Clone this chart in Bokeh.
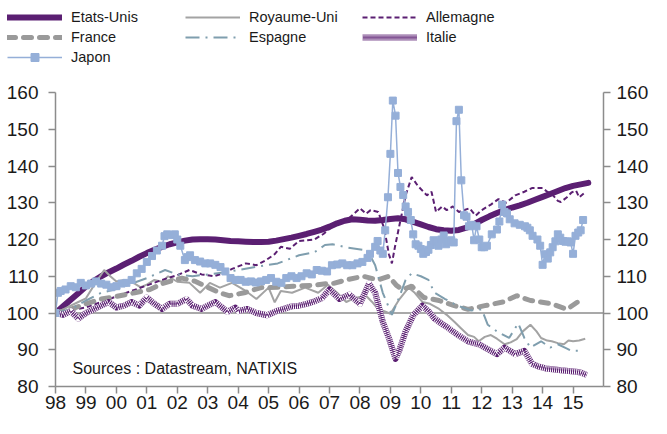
from bokeh.plotting import figure
from bokeh.layouts import column
from bokeh.models import (Range1d, LinearAxis, FixedTicker, Legend, LegendItem,
                          Label, Span)
from bokeh.embed import file_html
from bokeh.resources import INLINE

# ---------------- data (decimal years, index 1998 = 100) ----------------
year_ticks = list(range(1998, 2016))
year_labels = ["98", "99", "00", "01", "02", "03", "04", "05", "06", "07", "08",
               "09", "10", "11", "12", "13", "14", "15"]
y_ticks = [80, 90, 100, 110, 120, 130, 140, 150, 160]

us_x = [1998 + i / 4 for i in range(71)]
us_y = [100, 101.8, 103.6, 105.4,
        107.2, 108.7, 110.0, 111.1,
        112.1, 113.2, 114.2, 115.3,
        116.3, 117.2, 118.0, 118.7,
        119.2, 119.7, 120.0, 120.1,
        120.1, 120.0, 119.8, 119.6,
        119.5, 119.4, 119.3, 119.3,
        119.4, 119.7, 120.1, 120.5,
        121.0, 121.5, 122.1, 122.7,
        123.5, 124.4, 125.1, 125.5,
        125.4, 125.2, 125.1, 125.3,
        125.6, 125.8, 125.5, 124.8,
        124.1, 123.4, 122.8, 122.5,
        122.4, 122.6, 123.2, 124.2,
        125.3, 126.3, 127.2, 128.0,
        128.7, 129.3, 130.0, 130.8,
        131.6, 132.4, 133.2, 134.0,
        134.6, 135.0, 135.4]

uk_x = [1998.0, 1998.25, 1998.5, 1998.75, 1999.0, 1999.3, 1999.6, 1999.8,
        2000.0, 2000.25, 2000.6, 2000.8, 2001.0, 2001.25, 2001.5, 2001.7,
        2002.0, 2002.4, 2002.75, 2003.07, 2003.4, 2003.8, 2004.25, 2004.6,
        2005.0, 2005.2, 2005.4, 2005.77, 2006.2, 2006.63, 2006.95, 2007.25,
        2007.55, 2007.8, 2008.2, 2008.4, 2008.6, 2008.8, 2009.0, 2009.3,
        2009.6, 2009.8, 2010.05, 2010.3, 2010.6, 2010.85, 2011.1, 2011.3,
        2011.55, 2011.75, 2011.9, 2012.1, 2012.3, 2012.5, 2012.75, 2012.95,
        2013.15, 2013.35, 2013.6, 2013.8, 2013.95, 2014.15, 2014.3, 2014.5,
        2014.7, 2014.85, 2015.0, 2015.2, 2015.4]
uk_y = [100, 101, 102, 103, 104, 108, 111.7, 110,
        108.6, 109, 108, 107, 107.7, 109, 108.5, 110,
        108.5, 108.2, 105.5, 108.2, 106.9, 108.2, 106, 103.8,
        106.9, 102.9, 106, 105.5, 106.9, 105.5, 107.7, 105.5,
        103, 104, 104.7, 103, 101, 100.5, 99.8, 103.8,
        106.9, 105.5, 103, 102.5, 101.1, 99.5, 97.6, 96,
        94, 93.5, 92.3, 93.5, 94, 93, 91.5, 92,
        92.9, 95, 96.8, 95, 93.2, 92.5, 92.3, 91.8,
        91.5, 92.5, 92.3, 92.5, 93]

de_x = [1998.0, 1998.5, 1999.0, 1999.5, 2000.0, 2000.5, 2001.0, 2001.5,
        2002.0, 2002.4, 2002.8, 2003.2, 2003.5, 2003.8, 2004.25, 2004.6,
        2004.9, 2005.2, 2005.4, 2005.7, 2006.0, 2006.5, 2006.8, 2007.05,
        2007.3, 2007.6, 2008.0, 2008.2, 2008.35, 2008.6, 2008.8, 2008.95,
        2009.05, 2009.15, 2009.3, 2009.5, 2009.7, 2009.9, 2010.2, 2010.35,
        2010.5, 2010.7, 2010.85, 2011.05, 2011.25, 2011.6, 2011.8, 2012.0,
        2012.3, 2012.55, 2012.8, 2013.1, 2013.4, 2013.65, 2014.0, 2014.15,
        2014.3, 2014.5, 2014.6, 2014.8, 2014.95, 2015.1, 2015.2, 2015.35]
de_y = [100, 100.8, 101.5, 103, 104.5, 106, 107.5, 109,
        110.3, 111.7, 110.5, 110, 110.8, 112, 113.5, 113,
        114.3, 116, 118, 117.5, 119.6, 120, 121.5, 123.2,
        124.5, 125.5, 128.5, 127, 128, 127.5, 123, 116,
        113.5, 118, 124, 132, 137, 134.6, 132, 133,
        127.5, 129, 128, 129, 127.5, 128.5, 126.5, 128,
        129.5, 131, 130, 132, 133, 134, 134, 133,
        132.4, 130.5, 130.2, 131.5, 132.8, 133.3, 131.5, 132.5]

fr_x = [1998.0, 1998.5, 1999.0, 1999.5, 2000.0, 2000.6, 2001.1, 2001.5,
        2002.15, 2002.6, 2003.0, 2003.4, 2003.7, 2004.2, 2004.75, 2005.3,
        2005.8, 2006.4, 2006.9, 2007.1, 2007.55, 2008.1, 2008.6, 2008.95,
        2009.2, 2009.4, 2009.7, 2010.1, 2010.6, 2011.1, 2011.55, 2012.1,
        2012.7, 2013.15, 2013.6, 2014.3, 2014.8, 2015.15, 2015.3]
fr_y = [100, 101, 102.5, 103.8, 104.5, 105.5, 106.4, 108,
        109.5, 108.6, 107, 105.5, 104.7, 105.5, 106.9, 107,
        107.3, 107.5, 108, 108, 109, 110, 109, 110,
        107.5, 106.4, 107.3, 104.2, 103.4, 102, 101, 102,
        103, 104.7, 103.4, 102.5, 101, 103, 102.7]

es_x = [1998.0, 1998.5, 1999.0, 1999.5, 2000.0, 2000.5, 2001.0, 2001.6,
        2002.0, 2002.5, 2003.0, 2003.5, 2004.0, 2004.6, 2005.3, 2006.0,
        2006.5, 2006.85, 2007.1, 2007.6, 2008.25, 2008.5, 2008.75, 2009.05,
        2009.3, 2009.5, 2009.7, 2010.0, 2010.25, 2010.45, 2010.8, 2011.2,
        2011.65, 2012.0, 2012.2, 2012.5, 2012.9, 2013.2, 2013.4, 2013.6,
        2013.95, 2014.25, 2014.5, 2014.75, 2014.95, 2015.2]
es_y = [100, 101, 103.4, 105.5, 106.5, 108, 109.5, 111.7,
        110.5, 110, 110.5, 111, 111.7, 112.6, 113.5, 115.7,
        116.5, 118.5, 118.7, 117.8, 117, 113, 105.5, 99.5,
        104.5, 109, 110.8, 110, 109, 105.5, 103.8, 102,
        100.7, 101, 96.8, 95, 93.2, 97.2, 93.2, 90.6,
        92.3, 90.6, 91.5, 90.5, 89.7, 89.7]

it_x = [1998.0, 1998.25, 1998.5, 1998.75, 1999.0, 1999.25, 1999.5, 1999.75,
        2000.0, 2000.25, 2000.5, 2000.75, 2001.0, 2001.25, 2001.5, 2001.75,
        2002.0, 2002.3, 2002.5, 2002.8, 2003.0, 2003.25, 2003.65, 2003.9,
        2004.0, 2004.3, 2004.6, 2004.95, 2005.25, 2005.5, 2005.75, 2006.0,
        2006.25, 2006.45, 2006.75, 2007.0, 2007.33, 2007.65, 2008.0, 2008.3,
        2008.5, 2008.75, 2008.95, 2009.17, 2009.3, 2009.5, 2009.75, 2010.05,
        2010.25, 2010.45, 2010.7, 2010.9, 2011.2, 2011.55, 2011.75, 2011.9,
        2012.3, 2012.5, 2012.75, 2013.1, 2013.4, 2013.65, 2013.85, 2014.1,
        2014.4, 2014.6, 2014.85, 2015.1, 2015.25, 2015.45]
it_y = [100, 99.5, 100.5, 98.5, 100, 101, 102, 103,
        101.5, 102, 103, 102, 104.2, 102.5, 101.1, 102.5,
        102.5, 103.8, 102, 101.1, 102, 103, 100.3, 101.5,
        100.5, 101.1, 100, 99.4, 100.5, 101.1, 101.8, 102,
        102.5, 103, 104, 106.4, 103.8, 105, 102.5, 108,
        105.5, 97.6, 93.2, 87.5, 90, 95, 99.4, 102,
        100.5, 98.5, 97, 95.9, 94.1, 92.3, 91.8, 91.5,
        89.7, 88.8, 90.6, 88.8, 89.7, 86.2, 85.5, 84.9,
        84.6, 84.4, 84.2, 84.0, 83.8, 83.1]

jp_x = [1998.0, 1998.08, 1998.17, 1998.33, 1998.5, 1998.67, 1998.83, 1999.0,
        1999.17, 1999.33, 1999.5, 1999.67, 1999.83, 2000.0, 2000.17, 2000.33,
        2000.5, 2000.67, 2000.83, 2001.0, 2001.17, 2001.33, 2001.5, 2001.58,
        2001.67, 2001.83, 2001.92, 2002.0, 2002.1, 2002.25, 2002.33, 2002.42,
        2002.58, 2002.75, 2002.92, 2003.08, 2003.25, 2003.42, 2003.58, 2003.75,
        2003.92, 2004.08, 2004.25, 2004.42, 2004.58, 2004.75, 2004.92, 2005.08,
        2005.25, 2005.42, 2005.58, 2005.75, 2005.92, 2006.08, 2006.25, 2006.42,
        2006.58, 2006.75, 2006.92, 2007.08, 2007.25, 2007.42, 2007.58, 2007.75,
        2007.92, 2008.08, 2008.25, 2008.33, 2008.5, 2008.58, 2008.67, 2008.75,
        2008.83, 2008.92, 2009.0, 2009.08, 2009.17, 2009.25, 2009.33, 2009.42,
        2009.5, 2009.58, 2009.67, 2009.75, 2009.83, 2009.92, 2010.0, 2010.08,
        2010.17, 2010.25, 2010.33, 2010.42, 2010.5, 2010.58, 2010.67, 2010.75,
        2010.83, 2010.92, 2011.0, 2011.08, 2011.17, 2011.25, 2011.33, 2011.42,
        2011.5, 2011.58, 2011.67, 2011.75, 2011.83, 2011.92, 2012.0, 2012.08,
        2012.17, 2012.33, 2012.5, 2012.58, 2012.67, 2012.75, 2012.83, 2012.92,
        2013.08, 2013.25, 2013.42, 2013.5, 2013.58, 2013.67, 2013.83, 2013.92,
        2014.0, 2014.08, 2014.17, 2014.25, 2014.33, 2014.42, 2014.5, 2014.58,
        2014.67, 2014.75, 2014.83, 2014.92, 2015.0, 2015.08, 2015.17, 2015.25,
        2015.33]
jp_y = [100, 105.5, 106, 106.4, 107.3, 107, 108.2, 107.5,
        108, 108.6, 108, 107.7, 107, 107.3, 108, 108.2,
        109, 110.8, 112, 113.9, 115.5, 117, 118.3, 120.9,
        121.4, 121.2, 121.4, 120, 118.3, 114.4, 115.2, 115.7,
        114.4, 114, 113.5, 113.5, 113.1, 112.5, 111.3, 109.5,
        109, 109, 108.5, 108.6, 108.3, 108.6, 109, 109.5,
        108.5, 108.2, 109.5, 110, 109.5, 110, 110.8, 110.5,
        111.7, 111.5, 111.3, 113, 113.2, 113.5, 113, 113,
        113.5, 113.9, 115, 116.1, 118, 119.6, 117, 116.1,
        122.5, 131.5, 143.3, 157.8, 153.7, 138.1, 134.3, 132.1,
        129, 127.5, 125.3, 121.4, 118.7, 118.3, 117.4, 116.1,
        116.6, 117.2, 118.5, 119.8, 119.4, 118.3, 120, 121.1,
        118.7, 119.5, 119.8, 119.2, 152.2, 155.3, 136.1, 126.6,
        126.2, 123.6, 124, 119.8, 123.6, 120, 117.9, 117.9,
        118.3, 121.4, 122.7, 124.9, 129.5, 127.5, 127.1, 125.5,
        124.4, 124, 123.6, 123.2, 122.5, 121, 120, 118.3,
        113.1, 116, 114.8, 116.5, 117.9, 119.5, 121.4, 120.5,
        119.6, 119.4, 119.5, 119.2, 116.1, 121, 121.9, 122.5,
        125.3]

series_names = ["Etats-Unis", "Royaume-Uni", "Allemagne", "France", "Espagne",
                "Italie", "Japon"]

# ---------------- styles ----------------
FONT = "Liberation Sans"
PURPLE = "#5b1f72"
AXIS_GREY = "#8c8c8c"
STYLES = {
    "Etats-Unis": [dict(line_color=PURPLE, line_width=6, line_cap="round",
                        line_join="round")],
    "Royaume-Uni": [dict(line_color="#a3a3a3", line_width=2)],
    "Allemagne": [dict(line_color=PURPLE, line_width=2, line_dash="5 3")],
    "France": [dict(line_color="#9a9a9a", line_width=5, line_dash="8 8",
                    line_cap="round")],
    "Espagne": [dict(line_color="#7f9eae", line_width=2, line_dash="14 6 2 6")],
    "Italie": [dict(line_color=PURPLE, line_width=6, line_join="round"),
               dict(line_color="white", line_width=6, line_dash="1 1",
                    line_join="round"),
               dict(line_color=PURPLE, line_width=2, line_dash="1 1",
                    line_dash_offset=1, line_join="round")],
    "Japon": [dict(line_color="#95afd8", line_width=1.5)],
}
JP_MARK = dict(marker="square", size=7, fill_color="#95afd8", line_color="#95afd8")

data = {
    "Etats-Unis": (us_x, us_y), "Royaume-Uni": (uk_x, uk_y),
    "Allemagne": (de_x, de_y), "France": (fr_x, fr_y),
    "Espagne": (es_x, es_y), "Italie": (it_x, it_y), "Japon": (jp_x, jp_y),
}

LEG_H = 68

# ---------------- main chart ----------------
p = figure(width=651, height=418 - LEG_H, output_backend="svg",
           toolbar_location=None,
           x_range=Range1d(1998.0, 2016.0), y_range=Range1d(80, 160),
           min_border_left=55, min_border_right=46, min_border_top=24,
           min_border_bottom=32)
p.frame_align = False
p.outline_line_color = None
p.grid.visible = False

p.add_layout(Span(location=100, dimension="width", line_color=AXIS_GREY,
                  line_width=1.5, level="underlay"))

for name in series_names:
    xs, ys = data[name]
    for st in STYLES[name]:
        p.line(xs, ys, **st)
p.scatter(jp_x, jp_y, **JP_MARK)

def style_axis(ax):
    ax.axis_line_color = AXIS_GREY
    ax.axis_line_width = 1.5
    ax.major_tick_line_color = AXIS_GREY
    ax.major_tick_line_width = 1.5
    ax.major_tick_in = 0
    ax.major_tick_out = 7
    ax.minor_tick_line_color = None
    ax.major_label_text_font = FONT
    ax.major_label_text_font_size = "19px"
    ax.major_label_text_color = "#1a1a1a"

style_axis(p.xaxis[0])
style_axis(p.yaxis[0])
p.xaxis.ticker = FixedTicker(ticks=year_ticks)
p.xaxis.major_label_overrides = {t: l for t, l in zip(year_ticks, year_labels)}
p.xaxis.major_label_standoff = 2
p.yaxis.ticker = FixedTicker(ticks=y_ticks)
p.yaxis.major_label_standoff = 10

right = LinearAxis(ticker=FixedTicker(ticks=y_ticks))
style_axis(right)
right.major_label_standoff = 6
p.add_layout(right, "right")

p.add_layout(Label(x=1998.56, y=85, text="Sources : Datastream, NATIXIS",
                   text_font=FONT, text_font_size="16px", text_baseline="middle",
                   text_color="#1a1a1a"))

# ---------------- legend strip (series drawn off-range, only legend shows) -----
lg = figure(width=651, height=LEG_H, output_backend="svg", toolbar_location=None,
            x_range=Range1d(0, 1), y_range=Range1d(0, 1),
            x_axis_type=None, y_axis_type=None,
            min_border_left=0, min_border_right=0, min_border_top=0,
            min_border_bottom=0)
lg.frame_align = False
lg.outline_line_color = None
lg.grid.visible = False

leg_r = {}
for name in series_names:
    xs, ys = data[name]
    leg_r[name] = [lg.line(xs, ys, **st) for st in STYLES[name]]
leg_r["Japon"].append(lg.scatter(jp_x, jp_y, **JP_MARK))

def add_legend(names, loc):
    legend = Legend(items=[LegendItem(label=n, renderers=leg_r[n]) for n in names],
                    location=loc, orientation="vertical",
                    padding=0, margin=0, spacing=0, glyph_width=55,
                    glyph_height=20, label_height=20, label_standoff=9,
                    label_text_font=FONT, label_text_font_size="14.5px",
                    label_text_color="#1a1a1a", border_line_color=None,
                    background_fill_alpha=0)
    lg.add_layout(legend)

add_legend(["Etats-Unis", "France", "Japon"], (7, 1))
add_legend(["Royaume-Uni", "Espagne"], (185, 21))
add_legend(["Allemagne", "Italie"], (362, 21))

layout = column(lg, p, spacing=0)
open("out.html", "w").write(file_html(layout, INLINE))
